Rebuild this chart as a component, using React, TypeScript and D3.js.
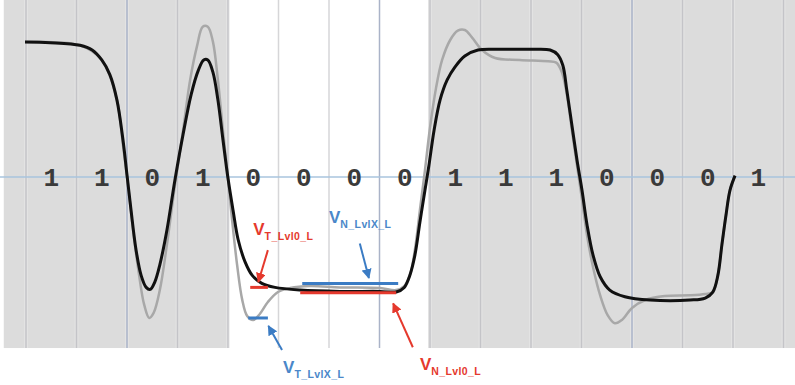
import React from "react";
import * as d3 from "d3";

// Bit pattern labels (one per unit interval)
const bits = ["1", "1", "0", "1", "0", "0", "0", "0", "1", "1", "1", "0", "0", "0", "1"];

// Unit-interval grid positions
const gridT = d3.range(0, 16);
const blueGridT = [2, 7, 12];

// Shaded (grey) spans in UI
const shadedSpans: [number, number][] = [[-0.44, 4], [7.96, 15.3]];

// Black waveform [UI, V]
const blackWave: [number, number][] = [
  [-0.02, 1.015], [0.48, 1.01], [1.07, 0.99], [1.31, 0.955], [1.5, 0.88], [1.66, 0.77],
  [1.8, 0.58], [1.92, 0.28], [2.0, 0.015], [2.08, -0.25], [2.18, -0.55], [2.28, -0.74],
  [2.38, -0.83], [2.46, -0.845], [2.55, -0.79], [2.65, -0.66], [2.79, -0.4], [2.95, -0.02],
  [3.11, 0.32], [3.27, 0.62], [3.41, 0.8], [3.52, 0.88], [3.6, 0.88], [3.7, 0.79],
  [3.8, 0.58], [3.9, 0.28], [4.0, -0.01], [4.1, -0.25], [4.2, -0.47], [4.34, -0.64],
  [4.48, -0.74], [4.67, -0.8], [4.93, -0.83], [5.43, -0.85], [6.22, -0.86], [7.01, -0.86],
  [7.33, -0.865], [7.49, -0.83], [7.6, -0.74], [7.7, -0.59], [7.8, -0.34], [7.9, -0.1],
  [7.98, 0.09], [8.08, 0.35], [8.2, 0.58], [8.34, 0.73], [8.5, 0.83], [8.69, 0.91],
  [8.95, 0.955], [9.39, 0.96], [9.98, 0.96], [10.38, 0.955], [10.53, 0.92], [10.63, 0.84],
  [10.71, 0.65], [10.81, 0.39], [10.91, 0.13], [11.01, -0.1], [11.11, -0.36], [11.23, -0.59],
  [11.37, -0.75], [11.56, -0.85], [11.86, -0.9], [12.36, -0.925], [13.15, -0.925], [13.45, -0.91],
  [13.6, -0.865], [13.7, -0.74], [13.78, -0.51], [13.86, -0.29], [13.94, -0.1], [14.04, 0.01],
];

// Grey waveform [UI, V]
const greyWave: [number, number][] = [
  [-0.02, 1.015], [1.07, 0.99], [1.5, 0.88], [1.8, 0.58], [1.92, 0.24], [2.02, -0.06],
  [2.12, -0.4], [2.24, -0.74], [2.34, -0.96], [2.44, -1.06], [2.53, -1.02], [2.65, -0.85],
  [2.79, -0.51], [2.95, -0.06], [3.11, 0.35], [3.25, 0.73], [3.39, 0.99], [3.5, 1.13],
  [3.6, 1.13], [3.7, 1.02], [3.8, 0.73], [3.9, 0.35], [4.0, -0.01], [4.08, -0.32],
  [4.18, -0.66], [4.28, -0.92], [4.38, -1.045], [4.5, -1.075], [4.63, -1.03], [4.79, -0.94],
  [4.99, -0.865], [5.23, -0.835], [5.62, -0.82], [6.22, -0.83], [7.01, -0.835], [7.33, -0.85],
  [7.49, -0.82], [7.6, -0.74], [7.7, -0.55], [7.8, -0.25], [7.9, 0.05], [8.0, 0.37],
  [8.12, 0.67], [8.24, 0.88], [8.4, 1.03], [8.55, 1.1], [8.69, 1.105], [8.83, 1.05],
  [9.03, 0.955], [9.29, 0.895], [9.78, 0.88], [10.34, 0.87], [10.5, 0.86], [10.61, 0.79],
  [10.71, 0.62], [10.81, 0.35], [10.91, 0.09], [11.01, -0.17], [11.11, -0.44], [11.23, -0.68],
  [11.37, -0.89], [11.52, -1.04], [11.66, -1.1], [11.8, -1.075], [12.0, -0.985], [12.26, -0.925],
  [12.65, -0.895], [13.15, -0.89], [13.45, -0.88], [13.6, -0.865], [13.7, -0.74], [13.78, -0.51],
  [13.86, -0.29], [13.94, -0.1], [14.04, 0.01],
];

// Level markers: [t0, t1, V]
const levelT0: [number, number, number] = [4.44, 4.79, -0.83];
const levelN0: [number, number, number] = [5.43, 7.33, -0.87];
const levelNX: [number, number, number] = [5.47, 7.37, -0.8];
const levelTX: [number, number, number] = [4.4, 4.79, -1.06];

// Annotation labels: subscript, anchor [UI, V], arrow tail/tip [UI, V]
const labelNames = ["T_Lvl0_L", "N_LvlX_L", "T_LvlX_L", "N_Lvl0_L"];
const labelAnchors: [number, number][] = [[4.5, -0.436], [6.0, -0.346], [5.09, -1.474], [7.8, -1.451]];
const arrowTails: [number, number][] = [[4.79, -0.55], [6.61, -0.5], [5.07, -1.3], [7.66, -1.28]];
const arrowTips: [number, number][] = [[4.6, -0.79], [6.79, -0.76], [4.8, -1.12], [7.27, -0.95]];
const labelKinds = ["red", "blue", "blue", "red"];

const W = 795;
const H = 385;

export default function App() {
  const x = d3.scaleLinear().domain([0, 15]).range([26, 26 + 50.5 * 15]);
  const y = d3.scaleLinear().domain([-1, 1]).range([310, 44]);
  const shadeBottom = y(-1.286);

  const line = d3
    .line<[number, number]>()
    .x((d) => x(d[0]))
    .y((d) => y(d[1]))
    .curve(d3.curveCatmullRom.alpha(0.5));

  const RED = "#e5392d";
  const BLUE = "#3b7cc4";
  const BLUE_TXT = "#4a87c9";
  const col = (k: string) => (k === "red" ? RED : BLUE);

  const levels: { d: [number, number, number]; c: string }[] = [
    { d: levelNX, c: BLUE },
    { d: levelN0, c: RED },
    { d: levelT0, c: RED },
    { d: levelTX, c: BLUE },
  ];

  const inWhite = (t: number) => t > 4 && t < 8;

  return (
    <svg
      width={W}
      height={H}
      style={{ position: "absolute", left: 0, top: 0, background: "#fff" }}
    >
      <defs>
        <marker id="arrRed" viewBox="0 0 10 10" refX="9" refY="5" markerWidth="5" markerHeight="5" orient="auto">
          <path d="M0,0 L10,5 L0,10 z" fill={RED} />
        </marker>
        <marker id="arrBlue" viewBox="0 0 10 10" refX="9" refY="5" markerWidth="5" markerHeight="5" orient="auto">
          <path d="M0,0 L10,5 L0,10 z" fill={BLUE} />
        </marker>
      </defs>
      <rect x={0} y={0} width={W} height={H} fill="#fff" />
      {shadedSpans.map((s, i) => (
        <rect
          key={i}
          x={x(s[0])}
          y={0}
          width={x(s[1]) - x(s[0])}
          height={shadeBottom}
          fill="#dcdcdc"
        />
      ))}
      {gridT.map((t) => {
        const isBlue = blueGridT.includes(t);
        const white = inWhite(t);
        return (
          <g key={t}>
            {!white && (
              <line x1={x(t)} x2={x(t)} y1={0} y2={shadeBottom} stroke="#e8e8e8" strokeWidth={4} opacity={0.6} />
            )}
            <line
              x1={x(t)}
              x2={x(t)}
              y1={0}
              y2={shadeBottom}
              stroke={isBlue ? "#aab3c8" : white ? "#d6d6d8" : "#c4c4c8"}
              strokeWidth={1.5}
            />
          </g>
        );
      })}
      <line x1={0} x2={W} y1={y(0)} y2={y(0)} stroke="#a9c5de" strokeWidth={1.5} />
      {bits.map((b, i) => (
        <text
          key={i}
          x={x(i + 0.5)}
          y={y(0) + 9}
          textAnchor="middle"
          fontFamily="'Liberation Mono', 'Courier New', monospace"
          fontSize={26}
          fontWeight="bold"
          fill="#3a3a3a"
        >
          {b}
        </text>
      ))}
      <path d={line(greyWave) || ""} fill="none" stroke="#a8a8a8" strokeWidth={2.5} />
      <path d={line(blackWave) || ""} fill="none" stroke="#111" strokeWidth={3} />
      {levels.map((l, i) => (
        <line
          key={i}
          x1={x(l.d[0])}
          x2={x(l.d[1])}
          y1={y(l.d[2])}
          y2={y(l.d[2])}
          stroke={l.c}
          strokeWidth={3}
        />
      ))}
      {labelNames.map((n, i) => (
        <g key={n}>
          <line
            x1={x(arrowTails[i][0])}
            y1={y(arrowTails[i][1])}
            x2={x(arrowTips[i][0])}
            y2={y(arrowTips[i][1])}
            stroke={col(labelKinds[i])}
            strokeWidth={2}
            markerEnd={labelKinds[i] === "red" ? "url(#arrRed)" : "url(#arrBlue)"}
          />
          <text
            x={x(labelAnchors[i][0])}
            y={y(labelAnchors[i][1])}
            fontFamily="'Liberation Sans', Arial, sans-serif"
            fontWeight="bold"
            fill={labelKinds[i] === "red" ? RED : BLUE_TXT}
            fontSize={17}
          >
            V
            <tspan fontSize={10.5} dy={5} letterSpacing={0.4}>
              {n}
            </tspan>
          </text>
        </g>
      ))}
    </svg>
  );
}
